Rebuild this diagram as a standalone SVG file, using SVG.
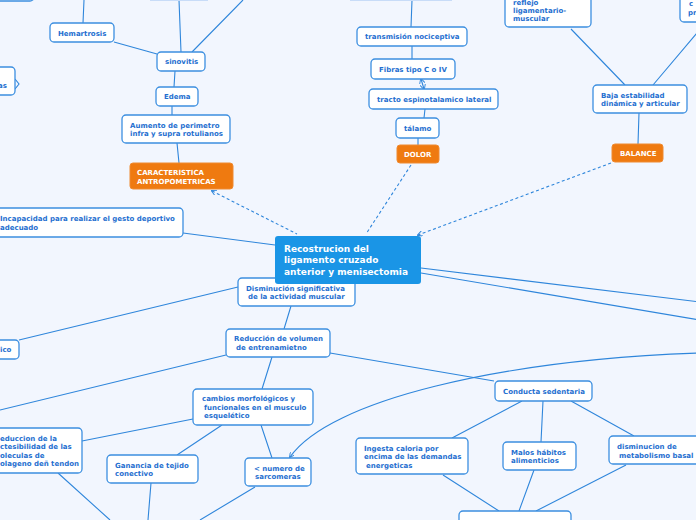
<svg xmlns="http://www.w3.org/2000/svg" width="696" height="520" viewBox="0 0 696 520">
<defs>
<style>
.n{fill:#fff;stroke:#3c8fe0;stroke-width:1.3}
.o{fill:#ef7a10;stroke:#ef8a30}
.c{fill:#1a95e6}
.t{font-family:"DejaVu Sans",sans-serif;font-weight:bold;font-size:7px;fill:#1f6fd0}
.w{fill:#fff}
.big{font-size:9px}
.l{stroke:#2f86db;stroke-width:1.1;fill:none}
.d{stroke-dasharray:3 2.5}
</style>
<marker id="a" viewBox="0 0 6 6" refX="5" refY="3" markerWidth="5" markerHeight="5" orient="auto-start-reverse"><path d="M0,0L6,3L0,6" fill="none" stroke="#2f86db"/></marker>
</defs>
<rect width="696" height="520" fill="#f2f6fe"/>
<g id="connectors">
<path class="l" d="M84,0L83,23M179,0L181,52M243,0L192,52M114,42L157,54M175,71L174,87M172,106L172,115M177,143L179,163"/>
<path class="l d" d="M212,191L297,234M411,165L366,234M611,163L418,235" marker-start="url(#a)" marker-end="url(#a)"/>
<path class="l" d="M183,233L275,245M421,268L700,302M421,273L700,320M238,287L19,340M291,306L284,329M226,355L0,410M330,353L494,381M272,357L262,389M193,419L82,441M222,425L177,455M261,425L272,458M58,473L110,520M151,483L148,520M255,487L200,520"/>
<path class="l" d="M700,353C500,360 330,400 290,457" marker-end="url(#a)"/>
<path class="l" d="M412,0L411,27M412,46L412,59M425,109L424,118M418,138L418,145"/>
<path class="l" d="M421,79L424,89" marker-start="url(#a)" marker-end="url(#a)"/>
<path class="l" d="M571,29L625,85M697,33L653,85M639,113L638,144M522,401L452,438M543,401L541,442M571,401L634,436M443,475L499,511M534,470L519,511M626,465L536,511"/>
<path class="l" d="M15,79L19,84L15,89"/>
</g>
<g id="top1"><rect class="n" x="-10" y="-20" width="44" height="21" rx="4"/></g>
<g id="top2"><rect x="150" y="-20" width="58" height="21" fill="#c8dcf8"/></g>
<g id="top3"><rect x="350" y="-20" width="102" height="21" fill="#c8dcf8"/></g>
<g id="hem"><rect class="n" x="50" y="23" width="64" height="19" rx="4"/><text class="t" x="58" y="36">Hemartrosis</text></g>
<g id="sin"><rect class="n" x="157" y="52" width="48" height="19" rx="4"/><text class="t" x="165" y="64">sinovitis</text></g>
<g id="ede"><rect class="n" x="156" y="87" width="42" height="19" rx="4"/><text class="t" x="164" y="99">Edema</text></g>
<g id="aum"><rect class="n" x="122" y="115" width="108" height="28" rx="4"/><text class="t" x="130" y="128">Aumento de perimetro</text><text class="t" x="130" y="136">infra y supra rotulianos</text></g>
<g id="car"><rect class="o" x="130" y="163" width="103" height="26" rx="3"/><text class="t w" x="137" y="175">CARACTERISTICA</text><text class="t w" x="137" y="184">ANTROPOMETRICAS</text></g>
<g id="as"><rect class="n" x="-10" y="67" width="25" height="28" rx="4"/><text class="t" x="-2" y="88">as</text></g>
<g id="inc"><rect class="n" x="-10" y="208" width="193" height="29" rx="4"/><text class="t" x="0" y="221">Incapacidad para realizar el gesto deportivo</text><text class="t" x="0" y="230">adecuado</text></g>
<g id="dis"><rect class="n" x="238" y="278" width="117" height="28" rx="4"/><text class="t" x="246" y="291">Disminución significativa</text><text class="t" x="248" y="299">de la actividad muscular</text></g>
<g id="cen"><rect class="c" x="275" y="236" width="146" height="48" rx="3"/><text class="t w big" x="284" y="252">Recostrucion del</text><text class="t w big" x="284" y="263">ligamento cruzado</text><text class="t w big" x="284" y="275">anterior y menisectomia</text></g>
<g id="ico"><rect class="n" x="-10" y="340" width="29" height="19" rx="4"/><text class="t" x="0" y="352">ico</text></g>
<g id="red"><rect class="n" x="226" y="329" width="104" height="28" rx="4"/><text class="t" x="234" y="341">Reducción de volumen</text><text class="t" x="236" y="350">de entrenamietno</text></g>
<g id="cam"><rect class="n" x="193" y="389" width="120" height="36" rx="4"/><text class="t" x="202" y="401">cambios morfológicos y</text><text class="t" x="204" y="410">funcionales en el musculo</text><text class="t" x="204" y="418">esquelético</text></g>
<g id="rdc"><rect class="n" x="-10" y="428" width="92" height="45" rx="4"/><text class="t" x="0" y="441">educcion de la</text><text class="t" x="0" y="449">ctesibilidad de las</text><text class="t" x="0" y="458">oleculas de</text><text class="t" x="0" y="466">olageno deñ tendon</text></g>
<g id="gan"><rect class="n" x="107" y="455" width="91" height="28" rx="4"/><text class="t" x="115" y="468">Ganancia de tejido</text><text class="t" x="115" y="476">conectivo</text></g>
<g id="num"><rect class="n" x="245" y="458" width="66" height="28" rx="4"/><text class="t" x="254" y="471">&lt; numero de</text><text class="t" x="255" y="479">sarcomeras</text></g>
<g id="tra"><rect class="n" x="357" y="27" width="110" height="19" rx="4"/><text class="t" x="365" y="39">transmisión nociceptiva</text></g>
<g id="fib"><rect class="n" x="371" y="59" width="84" height="20" rx="4"/><text class="t" x="379" y="72">Fibras tipo C o IV</text></g>
<g id="tre"><rect class="n" x="369" y="89" width="129" height="20" rx="4"/><text class="t" x="377" y="102">tracto espinotalamico lateral</text></g>
<g id="tal"><rect class="n" x="396" y="118" width="43" height="20" rx="4"/><text class="t" x="404" y="131">tálamo</text></g>
<g id="dol"><rect class="o" x="397" y="145" width="42" height="18" rx="3"/><text class="t w" x="404" y="157">DOLOR</text></g>
<g id="ref"><rect class="n" x="505" y="-10" width="86" height="37" rx="4"/><text class="t" x="513" y="5">reflejo</text><text class="t" x="513" y="13">ligamentario-</text><text class="t" x="513" y="21">muscular</text></g>
<g id="rp"><rect class="n" x="680" y="-10" width="26" height="32" rx="4"/><text class="t" x="689" y="6">c</text><text class="t" x="688" y="15">pr</text></g>
<g id="baj"><rect class="n" x="593" y="85" width="94" height="28" rx="4"/><text class="t" x="601" y="98">Baja estabilidad</text><text class="t" x="601" y="106">dinámica y articular</text></g>
<g id="bal"><rect class="o" x="612" y="144" width="51" height="18" rx="3"/><text class="t w" x="620" y="156">BALANCE</text></g>
<g id="con"><rect class="n" x="495" y="381" width="97" height="20" rx="4"/><text class="t" x="503" y="394">Conducta sedentaria</text></g>
<g id="ing"><rect class="n" x="356" y="438" width="112" height="36" rx="4"/><text class="t" x="364" y="451">Ingesta caloria por</text><text class="t" x="364" y="459">encima de las demandas</text><text class="t" x="366" y="468">energeticas</text></g>
<g id="mal"><rect class="n" x="503" y="442" width="73" height="28" rx="4"/><text class="t" x="511" y="455">Malos hábitos</text><text class="t" x="511" y="463">alimenticios</text></g>
<g id="met"><rect class="n" x="609" y="436" width="91" height="28" rx="4"/><text class="t" x="617" y="449">disminucion de</text><text class="t" x="619" y="458">metabolismo basal</text></g>
<g id="bot"><rect class="n" x="459" y="511" width="112" height="19" rx="4"/></g>
</svg>
